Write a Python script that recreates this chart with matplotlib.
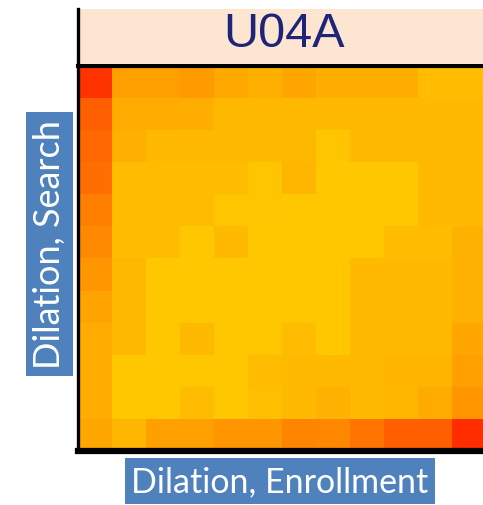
import numpy as np
import matplotlib
matplotlib.use("Agg")
import matplotlib.pyplot as plt
from matplotlib.colors import LinearSegmentedColormap

# panel title and axis labels
title = "U04A"
xlabel = "Dilation, Enrollment"
ylabel = "Dilation, Search"

# cell values (top row first): low = red, high = gold
row0 = [50, 150, 150, 145, 162, 170, 158, 168, 168, 168, 185, 185]
row1 = [88, 165, 165, 168, 183, 183, 183, 183, 183, 183, 183, 183]
row2 = [95, 170, 183, 183, 183, 183, 180, 197, 183, 183, 183, 183]
row3 = [100, 185, 185, 185, 185, 197, 178, 198, 198, 198, 183, 183]
row4 = [115, 185, 185, 185, 197, 197, 198, 198, 198, 198, 183, 183]
row5 = [125, 185, 185, 198, 182, 198, 198, 198, 198, 185, 185, 172]
row6 = [140, 180, 198, 198, 198, 198, 198, 198, 183, 183, 183, 172]
row7 = [155, 180, 198, 198, 198, 198, 198, 198, 183, 183, 183, 172]
row8 = [165, 180, 198, 183, 198, 198, 185, 198, 183, 183, 183, 160]
row9 = [168, 198, 198, 198, 198, 185, 183, 183, 183, 175, 175, 150]
row10 = [168, 198, 198, 185, 198, 188, 183, 172, 183, 178, 165, 140]
row11 = [160, 178, 152, 150, 138, 138, 120, 122, 105, 88, 88, 45]

grid = np.array([row0, row1, row2, row3, row4, row5,
                 row6, row7, row8, row9, row10, row11])

cmap = LinearSegmentedColormap.from_list("redgold", ["#FF2800", "#FF8800", "#FFCD00"])

W, H = 483, 506
fig = plt.figure(figsize=(W / 100, H / 100), dpi=100)

# heatmap (right-most column is cut by the image edge)
x0, x1, y0, y1 = 78, 486, 67, 452
ax = fig.add_axes([x0 / W, 1 - y1 / H, (x1 - x0) / W, (y1 - y0) / H])
ax.imshow(grid, cmap=cmap, vmin=40, vmax=205, aspect="auto", interpolation="nearest")
ax.set_xticks([])
ax.set_yticks([])
ax.spines["right"].set_visible(False)
ax.spines["left"].set_linewidth(2.4)
ax.spines["bottom"].set_linewidth(4.5)
ax.spines["top"].set_linewidth(3.0)

# title banner
bx = fig.add_axes([x0 / W, 1 - 65 / H, (x1 - x0) / W, 55 / H])
bx.set_facecolor("#FCE5D1")
bx.set_xticks([])
bx.set_yticks([])
for s in ["top", "right", "bottom"]:
    bx.spines[s].set_visible(False)
bx.spines["left"].set_linewidth(2.4)
bx.text(0.505, 0.55, title, transform=bx.transAxes, ha="center", va="center",
        fontsize=35, color="#1E2478", family="Liberation Sans")

# axis labels in blue boxes
lab_font = dict(family=["Lato", "DejaVu Sans"], color="white")
fig.text(280 / W, 1 - 482 / H, xlabel, ha="center", va="center", fontsize=24.5, **lab_font,
         bbox=dict(boxstyle="square,pad=0.2", fc="#4F81BD", ec="none"))
fig.text(49.5 / W, 1 - 245 / H, ylabel, ha="center", va="center", rotation=90,
         fontsize=26, **lab_font,
         bbox=dict(boxstyle="square,pad=0.2", fc="#4F81BD", ec="none"))

fig.savefig("out.png", dpi=100)
